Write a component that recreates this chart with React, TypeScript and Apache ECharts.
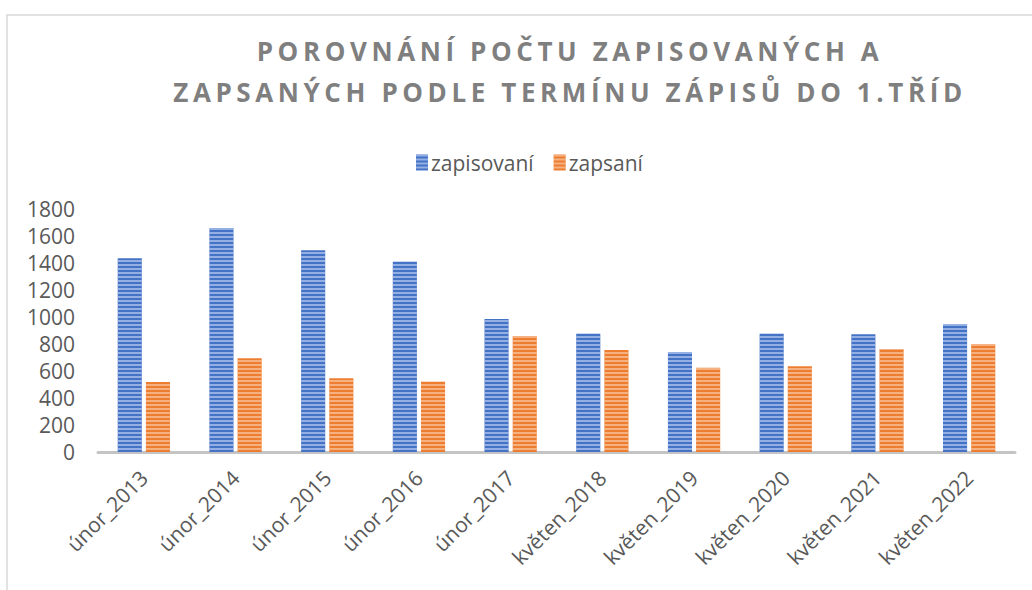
import React, { useEffect, useRef } from "react";
import * as echarts from "echarts";

const categories = [
  "únor_2013", "únor_2014", "únor_2015", "únor_2016", "únor_2017",
  "květen_2018", "květen_2019", "květen_2020", "květen_2021", "květen_2022",
];
const zapisovani = [1435, 1660, 1495, 1410, 985, 876, 738, 876, 872, 946];
const zapsani = [519, 694, 546, 521, 859, 756, 624, 635, 763, 798];
const titleLines = ["POROVNÁNÍ POČTU ZAPISOVANÝCH A", "ZAPSANÝCH PODLE TERMÍNU ZÁPISŮ DO 1.TŘÍD"];

export default function App() {
  const ref = useRef<HTMLDivElement>(null);
  useEffect(() => {
    const chart = echarts.init(ref.current!, undefined, { renderer: "svg" });
    const decal = (c: string) => ({
      symbol: "rect",
      symbolSize: 1,
      dashArrayX: [1, 0],
      dashArrayY: [1.5, 1.5],
      rotation: 0,
      color: c,
    });
    chart.setOption({
      animation: false,
      backgroundColor: "#ffffff",
      title: {
        text: titleLines.join("\n"),
        left: 570,
        top: 30,
        textAlign: "center",
        padding: 0,
        textStyle: {
          fontFamily: "Open Sans",
          fontWeight: "bold",
          fontSize: 26,
          lineHeight: 41,
          color: "#7f7f7f",
        },
      },
      legend: {
        left: 411,
        top: 147,
        itemWidth: 12,
        itemHeight: 16,
        itemGap: 20,
        icon: "rect",
        textStyle: { fontFamily: "Open Sans", fontSize: 21, color: "#595959", padding: [0, 0, 0, -2] },
        data: ["zapisovaní", "zapsaní"],
      },
      grid: { left: 98, right: 17, top: 209, bottom: 138 },
      xAxis: {
        type: "category",
        data: categories,
        axisLine: { lineStyle: { color: "#c4c4c4", width: 3 } },
        axisTick: { show: false },
        axisLabel: {
          rotate: 45,
          margin: 22,
          interval: 0,
          fontFamily: "Open Sans",
          fontSize: 21,
          color: "#595959",
        },
      },
      yAxis: {
        type: "value",
        min: 0,
        max: 1800,
        interval: 200,
        splitLine: { show: false },
        axisLine: { show: false },
        axisTick: { show: false },
        axisLabel: {
          fontFamily: "Open Sans",
          fontSize: 21,
          color: "#595959",
          margin: 23,
          formatter: (v: number) => String(v),
        },
      },
      series: [
        {
          name: "zapisovaní",
          type: "bar",
          data: zapisovani,
          barGap: "17%",
          barCategoryGap: "43%",
          itemStyle: { color: "#4472C4", decal: decal("rgba(190,208,245,0.65)") },
        },
        {
          name: "zapsaní",
          type: "bar",
          data: zapsani,
          itemStyle: { color: "#ED7D31", decal: decal("rgba(250,205,170,0.65)") },
        },
      ],
      graphic: [
        {
          type: "rect",
          shape: { x: 7, y: 15, width: 1100, height: 700 },
          style: { fill: "none", stroke: "#d9d9d9", lineWidth: 1.5 },
          silent: true,
        },
      ],
    });
    return () => chart.dispose();
  }, []);
  return (
    <>
      <style>{`#chartbox svg text[style*="26px"]{letter-spacing:4.6px;}`}</style>
      <div
        id="chartbox"
        ref={ref}
        style={{ position: "absolute", left: 0, top: 0, width: 1032, height: 590 }}
      />
    </>
  );
}
